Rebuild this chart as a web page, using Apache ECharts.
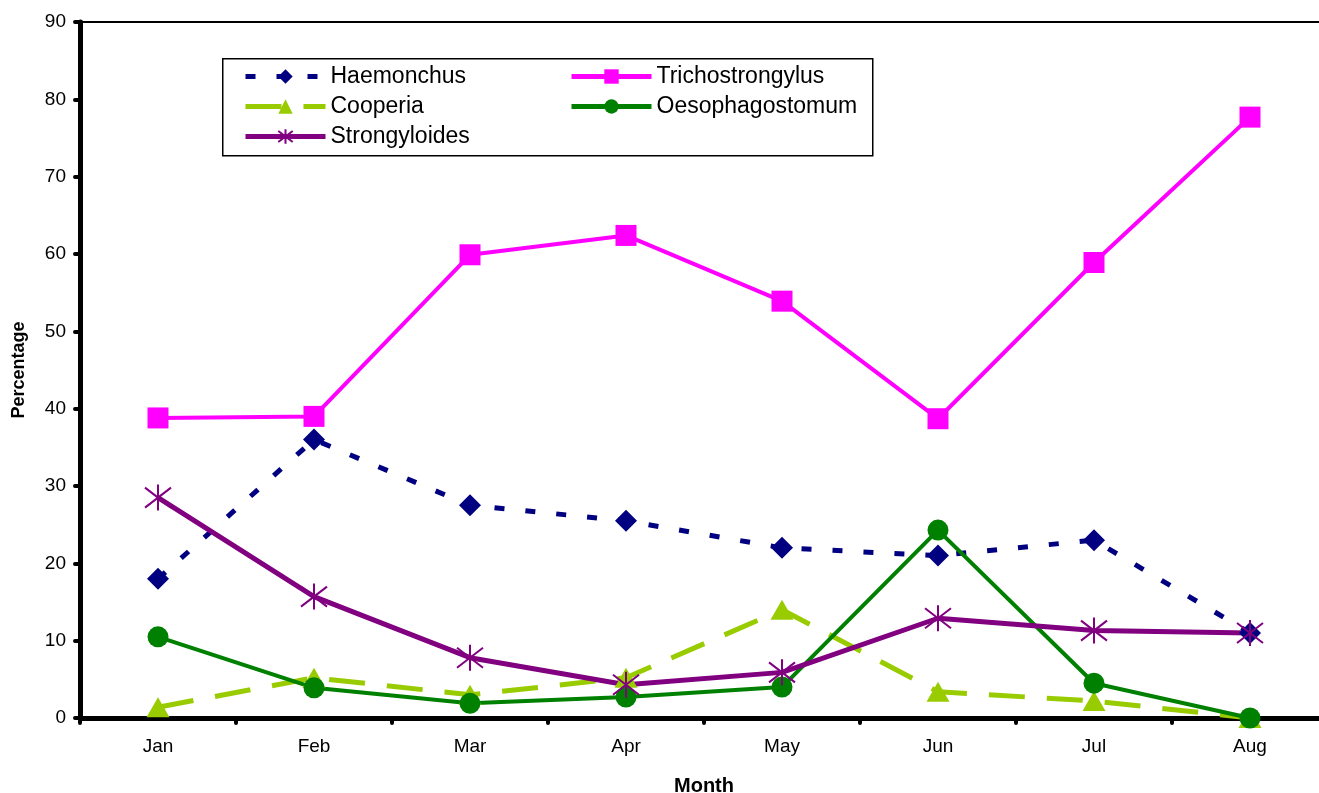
<!DOCTYPE html>
<html>
<head>
<meta charset="utf-8">
<script src="https://cdn.jsdelivr.net/npm/echarts@6/dist/echarts.min.js"></script>
<style>
html,body{margin:0;padding:0;background:#fff;}
#chart{width:1319px;height:793px;}
</style>
</head>
<body>
<div id="chart"></div>
<script>
const months = ['Jan','Feb','Mar','Apr','May','Jun','Jul','Aug'];
const yTicks = [0,10,20,30,40,50,60,70,80,90];
const haemonchus = [18, 36, 27.5, 25.5, 22, 21, 23, 11];
const trichostrongylus = [38.8, 39, 59.9, 62.4, 53.9, 38.7, 58.9, 77.7];
const cooperia = [1.4, 5.2, 3, 5.2, 14, 3.4, 2.2, 0];
const oesophagostomum = [10.5, 3.9, 1.9, 2.7, 4, 24.3, 4.5, 0];
const strongyloides = [28.5, 15.7, 7.8, 4.3, 5.9, 12.9, 11.3, 11];

const FONT = 'Liberation Sans, Arial, sans-serif';
const asterisk = 'path://M0,0L10,10M10,0L0,10M5,-1.5L5,11.5';

const chart = echarts.init(document.getElementById('chart'), null, {renderer:'canvas'});
const option = {
  animation: false,
  backgroundColor: '#fff',
  grid: {left: 80, top: 22, right: -9, bottom: 75, show: true, borderColor: '#000', borderWidth: 2,
         containLabel: false, outerBoundsMode: 'none'},
  xAxis: {
    type: 'category',
    data: months,
    boundaryGap: true,
    name: 'Month',
    nameLocation: 'middle',
    nameGap: 58,
    nameTextStyle: {fontFamily: FONT, fontSize: 20, fontWeight: 'bold', color: '#000'},
    axisLine: {lineStyle: {color: '#000', width: 5}},
    axisTick: {show: true, length: 5, lineStyle: {color: '#000', width: 4, cap: 'round'}},
    axisLabel: {fontFamily: FONT, fontSize: 19, color: '#000', margin: 19}
  },
  yAxis: {
    type: 'value',
    min: yTicks[0],
    max: yTicks[yTicks.length - 1],
    interval: 10,
    name: 'Percentage',
    nameLocation: 'middle',
    nameGap: 52,
    nameRotate: 90,
    nameTextStyle: {fontFamily: FONT, fontSize: 18, fontWeight: 'bold', color: '#000'},
    axisLine: {show: true, lineStyle: {color: '#000', width: 5}},
    axisTick: {show: true, length: 5, lineStyle: {color: '#000', width: 4, cap: 'round'}},
    axisLabel: {fontFamily: FONT, fontSize: 19, color: '#000', margin: 14},
    splitLine: {show: false}
  },
  legend: [
    {
      data: ['Haemonchus', 'Cooperia', 'Strongyloides'],
      orient: 'vertical', left: 238, top: 60, itemWidth: 80, itemHeight: 18, itemGap: 7,
      selectedMode: false,
      lineStyle: {width: 5},
      textStyle: {fontFamily: FONT, fontSize: 23, color: '#000'}
    },
    {
      data: ['Trichostrongylus', 'Oesophagostomum'],
      orient: 'vertical', left: 564, top: 60, itemWidth: 80, itemHeight: 18, itemGap: 7,
      selectedMode: false,
      lineStyle: {width: 5},
      textStyle: {fontFamily: FONT, fontSize: 23, color: '#000'}
    }
  ],
  graphic: [{
    type: 'rect', left: 222, top: 58, z: 0,
    shape: {width: 650, height: 97},
    style: {fill: '#fff', stroke: '#000', lineWidth: 1.5}
  }],
  series: [
    {
      name: 'Haemonchus', type: 'line', data: haemonchus,
      symbol: 'diamond', symbolSize: [22, 22],
      itemStyle: {color: '#000080'},
      lineStyle: {color: '#000080', width: 5, type: [10, 21]}
    },
    {
      name: 'Trichostrongylus', type: 'line', data: trichostrongylus,
      symbol: 'rect', symbolSize: 21,
      itemStyle: {color: '#FF00FF'},
      lineStyle: {color: '#FF00FF', width: 4}
    },
    {
      name: 'Cooperia', type: 'line', data: cooperia,
      symbol: 'triangle', symbolSize: [23, 20],
      itemStyle: {color: '#99CC00'},
      lineStyle: {color: '#99CC00', width: 5, type: [36, 22]}
    },
    {
      name: 'Oesophagostomum', type: 'line', data: oesophagostomum,
      symbol: 'circle', symbolSize: 21,
      itemStyle: {color: '#008000'},
      lineStyle: {color: '#008000', width: 4}
    },
    {
      name: 'Strongyloides', type: 'line', data: strongyloides,
      symbol: asterisk, symbolSize: 26,
      itemStyle: {color: 'rgba(0,0,0,0)', borderColor: '#800080', borderWidth: 2},
      lineStyle: {color: '#800080', width: 5}
    }
  ]
};
chart.setOption(option);
</script>
</body>
</html>
